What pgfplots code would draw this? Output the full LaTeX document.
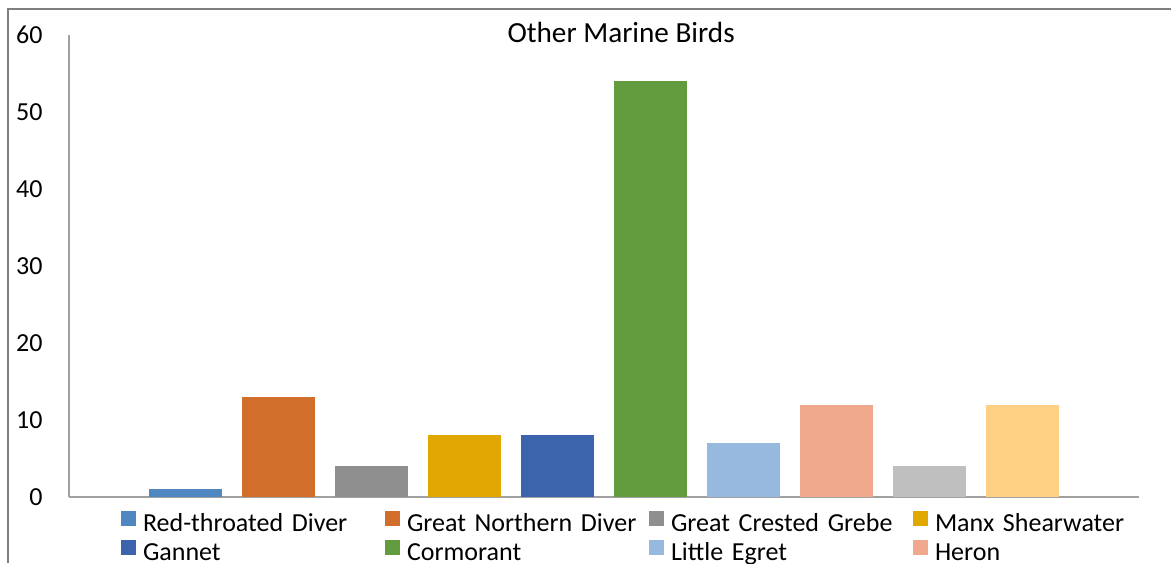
\documentclass[border=0pt]{standalone}
\usepackage{fontspec}
\setmainfont{Carlito}
\usepackage{pgfplots}
\pgfplotsset{compat=1.18}

\definecolor{c1}{HTML}{4F88C0}
\definecolor{c2}{HTML}{D26E2B}
\definecolor{c3}{HTML}{8F8F8F}
\definecolor{c4}{HTML}{E0A800}
\definecolor{c5}{HTML}{3C64AD}
\definecolor{c6}{HTML}{629C3F}
\definecolor{c7}{HTML}{97B9E0}
\definecolor{c8}{HTML}{F0A98C}
\definecolor{c9}{HTML}{BFBFBF}
\definecolor{c10}{HTML}{FED083}
\definecolor{framegray}{HTML}{7F7F7F}

\newcommand{\chartfont}{\fontsize{13}{15.6}\selectfont}

\begin{document}
\chartfont
\begin{tikzpicture}[x=1pt,y=1pt]
\path[use as bounding box] (0,0) rectangle (585.5,281.5);
% chart area frame (left and top edges)
\fill[framegray] (3.5,0) rectangle (4.5,277.5);
\fill[framegray] (3.5,276.5) rectangle (585.5,277.5);
\begin{scope}
\clip (0,0) rectangle (585.5,281.5);
\begin{axis}[
  at={(34.5pt,33pt)}, anchor=south west,
  scale only axis, width=535pt, height=231pt,
  xmin=-0.25, xmax=11.25, ymin=0, ymax=60,
  axis x line*=bottom, axis y line*=left,
  axis line style={-, draw=black!37, line width=0.75pt},
  xtick=\empty, ytick={0,10,...,60}, major tick length=0pt,
  /pgf/number format/assume math mode=true,
  y tick label style={inner xsep=0pt, xshift=-13pt, font=\chartfont},
  title={Other Marine Birds},
  title style={at={(axis description cs:0.516,1)}, anchor=center, yshift=-4.5pt,
    font=\fontsize{14.6}{17}\selectfont},
  legend columns=4,
  legend cell align=left,
  legend style={at={(axis description cs:0.0486,-0.0303)}, anchor=north west,
    draw=none, fill=none, inner sep=0pt, outer sep=0pt, font=\chartfont,
    row sep=1pt,
    nodes={inner sep=0pt, text width=121pt, align=left, text height=9.5pt, text depth=3.5pt},
    /tikz/every odd column/.append style={column sep=3.5pt}},
  legend image code/.code={\fill[#1] (0pt,-0.5pt) rectangle (7.5pt,7pt);},
]
\addplot[ybar, bar width=36.5pt, fill=c1, draw=none] coordinates {(1,1)};
\addlegendentry{Red-throated Diver}
\addplot[ybar, bar width=36.5pt, fill=c2, draw=none] coordinates {(2,13)};
\addlegendentry{Great Northern Diver}
\addplot[ybar, bar width=36.5pt, fill=c3, draw=none] coordinates {(3,4)};
\addlegendentry{Great Crested Grebe}
\addplot[ybar, bar width=36.5pt, fill=c4, draw=none] coordinates {(4,8)};
\addlegendentry{Manx Shearwater}
\addplot[ybar, bar width=36.5pt, fill=c5, draw=none] coordinates {(5,8)};
\addlegendentry{Gannet}
\addplot[ybar, bar width=36.5pt, fill=c6, draw=none] coordinates {(6,54)};
\addlegendentry{Cormorant}
\addplot[ybar, bar width=36.5pt, fill=c7, draw=none] coordinates {(7,7)};
\addlegendentry{Little Egret}
\addplot[ybar, bar width=36.5pt, fill=c8, draw=none] coordinates {(8,12)};
\addlegendentry{Heron}
\addplot[ybar, bar width=36.5pt, fill=c9, draw=none, forget plot] coordinates {(9,4)};
\addplot[ybar, bar width=36.5pt, fill=c10, draw=none, forget plot] coordinates {(10,12)};
\end{axis}
\end{scope}
\end{tikzpicture}
\end{document}
